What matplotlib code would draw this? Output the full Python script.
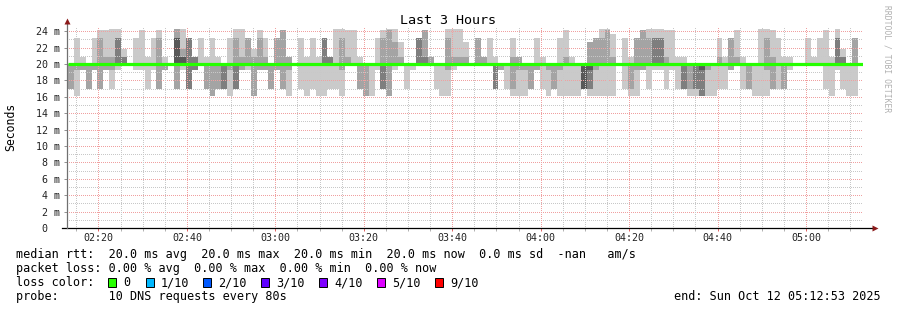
import numpy as np
import matplotlib.pyplot as plt
from matplotlib.patches import Rectangle
from matplotlib.ticker import FixedLocator, FuncFormatter

plt.rcParams['font.family'] = ['DejaVu Sans Mono']

# time axis (minutes since midnight), 80 s steps
t_start = 132 + 53 / 60.0          # 02:12:53
t_end = t_start + 180.0            # 05:12:53
step_min = 80 / 60.0
first_step = t_start + 0.225

median = 20.0

# sorted ping values per step (ms); p5/p6 are the median
p1 = [17.0, 16.1, 19.3, 17.0, 19.3, 17.0, 19.3, 17.0, 19.3, 20, 20, 19.3, 19.3, 17.0, 19.3,
      17.0, 19.3, 20, 17.0, 19.3, 17.0, 19.3, 20, 17.0, 16.1, 17.0, 17.0, 16.1, 17.0, 19.3,
      19.3, 16.1, 19.3, 19.3, 17.0, 19.3, 17.0, 16.1, 20, 17.0, 16.1, 17.0, 16.1, 16.1, 17.0,
      17.0, 16.1, 20, 20, 17.0, 16.1, 16.1, 19.3, 17.0, 16.1, 19.3, 20, 17.0, 19.3, 20,
      20, 20, 17.0, 16.1, 16.1, 19.3, 20, 20, 20, 20, 20, 20, 17.0, 19.3, 17.0,
      16.1, 16.1, 16.1, 17.0, 19.3, 17.0, 16.1, 17.0, 16.1, 16.1, 16.1, 16.1, 17.0, 16.1, 16.1,
      16.1, 16.1, 16.1, 20, 17.0, 16.1, 16.1, 19.3, 17.0, 19.3, 19.3, 17.0, 19.3, 17.0, 17.0,
      16.1, 16.1, 16.1, 16.1, 16.1, 17.0, 17.0, 19.3, 20, 17.0, 17.0, 16.1, 16.1, 16.1, 17.0,
      17.0, 17.0, 19.3, 20, 20, 20, 20, 20, 17.0, 16.1, 19.3, 17.0, 16.1, 16.1, 20]
p2 = [17.0, 19.3, 19.3, 17.0, 19.3, 17.0, 19.3, 19.3, 20, 20, 20, 20, 20, 20, 20,
      17.0, 19.3, 20, 17.0, 20, 17.0, 19.3, 20, 17.0, 16.1, 17.0, 17.0, 19.3, 17.0, 19.3,
      20, 16.1, 19.3, 19.3, 17.0, 19.3, 17.0, 19.3, 20, 20, 20, 20, 20, 20, 20,
      20, 19.3, 20, 20, 17.0, 16.1, 20, 20, 17.0, 16.1, 20, 20, 20, 20, 20,
      20, 20, 20, 20, 19.3, 20, 20, 20, 20, 20, 20, 20, 17.0, 19.3, 20,
      17.0, 19.3, 19.3, 17.0, 19.3, 20, 19.3, 17.0, 19.3, 20, 20, 20, 17.0, 17.0, 19.3,
      20, 20, 20, 20, 20, 17.0, 19.3, 19.3, 20, 20, 20, 20, 20, 20, 17.0,
      17.0, 17.0, 16.1, 19.3, 20, 20, 20, 19.3, 20, 20, 17.0, 20, 20, 19.3, 17.0,
      20, 17.0, 20, 20, 20, 20, 20, 20, 20, 20, 20, 20, 20, 20, 20]
p3 = [20] * 20 + [17.0, 19.3, 20, 20, 20, 20, 17.0, 20, 17.0] + [20] * 24 + [17.0] + \
     [20] * 18 + [17.0] + [20] * 14 + [17.0, 17.0] + [20] * 15 + [17.0, 20, 17.0, 16.1] + [20] * 27
p4 = [20] * 87 + [17.0, 19.3] + [20] * 18 + [19.3] + [20] * 27
p7 = [20] * 18 + [23.2, 20.9] + [20] * 115
p8 = [20] * 8 + [23.2, 20.9] + [20] * 8 + [23.2, 20.9, 23.2, 20.9] + [20] * 21 + [23.2, 20.9] + \
     [20] * 14 + [23.2, 20.9] + [20] * 38 + [23.2, 23.2] + [20] * 29 + [23.2, 20.9, 20, 20, 20]
p9 = [20, 20, 20, 20, 20, 23.2, 20.9, 20.9, 23.2, 20.9, 20, 20, 20, 20, 20,
      23.2, 20, 20, 24.3, 21.8, 23.2, 20.9, 20, 20, 20, 20, 20, 20, 23.2, 20.9,
      23.2, 20.9, 23.2, 20.9, 20, 23.2, 24.1, 20.9, 20, 20, 20, 20, 20, 23.2, 20.9,
      20, 23.2, 20.9, 20, 20, 20, 20, 20, 23.2, 24.1, 22.7, 20.9, 20, 20, 23.2,
      24.1, 20.9, 20, 20, 23.2, 20.9, 20.9, 20.9, 20, 23.2, 20.9, 20, 20, 20, 20,
      20.9, 20.9, 20, 20, 20, 20, 20, 20, 20, 20.9, 20, 20, 20, 22.7, 23.2,
      23.2, 24.1, 20.9, 20, 20, 20, 23.2, 24.1, 23.2, 23.2, 23.2, 20.9, 20, 20, 20,
      20, 20, 20, 20, 20, 20.9, 20, 23.2, 20.9, 20, 20, 20, 20, 23.2, 20.9,
      20, 20, 20, 20, 20, 20, 20, 20, 20, 20, 23.2, 20.9, 20, 23.2, 20]
p10 = [20, 23.2, 20.9, 20, 23.2, 24.1, 24.1, 24.3, 24.3, 21.8, 20, 23.2, 24.1, 20.9, 23.2,
       24.1, 20.9, 20, 24.3, 24.3, 23.2, 20.9, 23.2, 20.9, 23.2, 20.9, 20, 23.2, 24.3, 24.3,
       23.2, 21.8, 24.1, 23.2, 20, 23.2, 24.1, 20.9, 20, 23.2, 20.9, 23.2, 20.9, 23.2, 20.9,
       24.3, 24.3, 24.1, 24.1, 20.9, 20, 20, 23.2, 24.1, 24.3, 24.3, 22.7, 20, 20, 23.2,
       24.1, 20.9, 20, 20, 24.3, 24.3, 24.3, 22.7, 20, 23.2, 20.9, 23.2, 20.9, 20, 20,
       23.2, 20.9, 20, 20, 23.2, 20.9, 20, 20, 23.2, 24.1, 20.9, 20, 20, 22.7, 23.2,
       24.3, 24.3, 23.7, 20, 23.2, 20.9, 23.2, 24.1, 24.3, 24.3, 24.3, 24.1, 24.1, 20.9, 20.9,
       20, 20, 20, 20, 20, 23.2, 20.9, 23.2, 24.1, 20.9, 20, 20, 24.3, 24.3, 24.1,
       23.2, 20.9, 20.9, 20, 20, 23.2, 20.9, 23.2, 24.1, 20.9, 24.3, 21.8, 20, 23.2, 20]

loss_labels = ['0', '1/10', '2/10', '3/10', '4/10', '5/10', '9/10']
loss_colors = ['#26ff00', '#00b8ff', '#0059ff', '#5e00ff', '#7e00ff', '#dd00ff', '#ff0000']
smoke_colors = ['#cacaca', '#a4a4a4', '#7e7e7e', '#585858']

W, H = 897, 310
fig = plt.figure(figsize=(W / 100, H / 100), dpi=100)
ax_left, ax_right, ax_bottom, ax_top = 67, 863, 228, 26
ax = fig.add_axes([ax_left / W, 1 - ax_bottom / H, (ax_right - ax_left) / W,
                   (ax_bottom - ax_top) / H])
ymax = (ax_bottom - ax_top) / 8.2
ax.set_xlim(t_start, t_end)
ax.set_ylim(0, ymax)

n = len(p1)
edges = first_step + step_min * np.arange(n + 1)
pairs = [(p1, p10), (p2, p9), (p3, p8), (p4, p7)]
for (lo, hi), c in zip(pairs, smoke_colors):
    lo_e = np.append(lo, lo[-1])
    hi_e = np.append(hi, hi[-1])
    ax.fill_between(edges, lo_e, hi_e, step='post', color=c, linewidth=0, zorder=2)

# median line
ax.plot([edges[0], edges[-1]], [median, median], color=loss_colors[0], lw=2.3,
        zorder=5, solid_capstyle='butt')

# grid (dotted, drawn over the smoke)
for v in range(1, 25):
    major = v % 2 == 0
    ax.axhline(v, color='#f0a0a0' if major else '#c8c8c8', lw=0.72,
               ls=(0, (1, 2)), zorder=3, antialiased=False)
for m in range(135, 313, 5):
    major = m % 20 == 0
    ax.axvline(m, color='#f0a0a0' if major else '#c8c8c8', lw=0.72,
               ls=(0, (1, 2)), zorder=3, antialiased=False)

for s in ax.spines.values():
    s.set_visible(False)

# axis lines + arrows
ax.plot([-5 / 796, 806 / 796], [0, 0], transform=ax.transAxes, color='black',
        lw=0.9, clip_on=False, zorder=6)
ax.plot([0, 0], [0, 1.02], transform=ax.transAxes, color='#707070',
        lw=0.9, clip_on=False, zorder=6)
ax.plot([808 / 796], [0], transform=ax.transAxes, marker='>', ms=4,
        color='#8b1a1a', clip_on=False, zorder=7, mec='none')
ax.plot([0], [1.025], transform=ax.transAxes, marker='^', ms=4,
        color='#8b1a1a', clip_on=False, zorder=7, mec='none')

yt = list(range(0, 25, 2))
ax.yaxis.set_major_locator(FixedLocator(yt))
ax.set_yticklabels(['0  '] + [f'{v} m' for v in yt[1:]])
ax.tick_params(axis='y', length=2, width=0.7, color='#909090', pad=3.2,
               labelsize=7.2, labelcolor='#222222')

ax.xaxis.set_major_locator(FixedLocator(list(range(140, 313, 20))))
ax.xaxis.set_minor_locator(FixedLocator(list(range(135, 313, 5))))
ax.xaxis.set_major_formatter(FuncFormatter(lambda v, p: f'{int(v // 60):02d}:{int(v % 60):02d}'))
ax.tick_params(axis='x', which='major', length=2, width=0.7, color='#e06060',
               pad=1.5, labelsize=7.2, labelcolor='#222222')
ax.tick_params(axis='x', which='minor', length=2, width=0.7, color='#b0b0b0')

# texts
fs = 8.5
fig.text(448 / W, 1 - 20 / H, 'Last 3 Hours', ha='center', va='center', fontsize=9.6)
fig.text(11 / W, 1 - 127 / H, 'Seconds', rotation=90, ha='center', va='center', fontsize=8.3)
fig.text(887 / W, 1 - 5 / H, 'RRDTOOL / TOBI OETIKER', rotation=270, ha='center',
         va='top', fontsize=5.8, color='#b0b0b0')

fig.text(16 / W, 1 - 254.5 / H,
         'median rtt:  20.0 ms avg  20.0 ms max  20.0 ms min  20.0 ms now  0.0 ms sd  -nan   am/s',
         ha='left', va='center', fontsize=fs)
fig.text(16 / W, 1 - 268.5 / H,
         'packet loss: 0.00 % avg  0.00 % max  0.00 % min  0.00 % now',
         ha='left', va='center', fontsize=fs)
fig.text(16 / W, 1 - 283 / H, 'loss color:', ha='left', va='center', fontsize=fs)
box_x = [108, 146, 203, 261, 319, 377, 435]
for bx, lab, col in zip(box_x, loss_labels, loss_colors):
    fig.patches.append(Rectangle((bx / W, 1 - 287 / H), 8 / W, 9 / H, transform=fig.transFigure,
                                 facecolor=col, edgecolor='black', lw=0.7))
    fig.text((bx + 15) / W, 1 - 283 / H, lab, ha='left', va='center', fontsize=fs)
fig.text(16 / W, 1 - 296.5 / H, 'probe:       10 DNS requests every 80s',
         ha='left', va='center', fontsize=fs)
fig.text(881 / W, 1 - 296.5 / H, 'end: Sun Oct 12 05:12:53 2025', ha='right', va='center',
         fontsize=fs)

fig.savefig('out.png', dpi=100)
